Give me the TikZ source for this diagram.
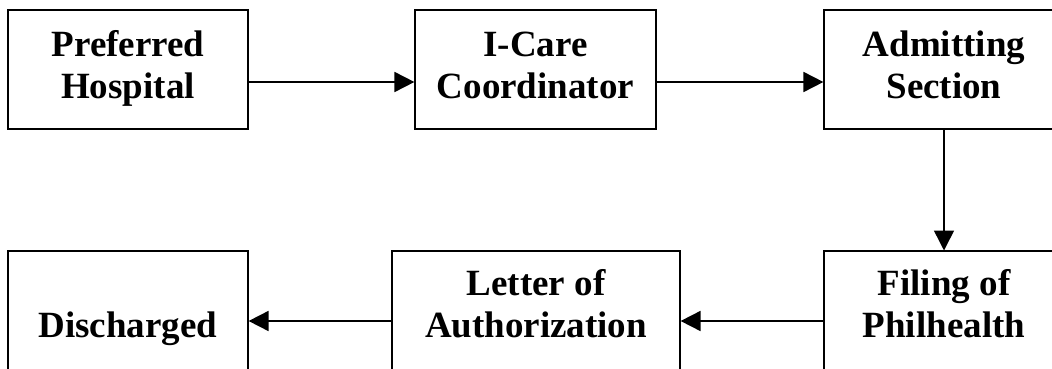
\documentclass[tikz,border=0pt]{standalone}
\usepackage{fontspec}
\setmainfont{Liberation Serif}
\usetikzlibrary{arrows.meta,calc}
\tikzset{
  box/.style={draw=black, line width=2.2pt, fill=white, inner sep=0pt,
    minimum height=119pt, align=center,
    font=\bfseries\fontsize{37pt}{42pt}\selectfont},
  txt/.style={align=center, inner sep=0pt, font=\bfseries\fontsize{37pt}{42pt}\selectfont},
  flow/.style={line width=1.8pt, -{Triangle[length=20pt,width=20pt]}, shorten >=-0.5pt}
}
\begin{document}
\begin{tikzpicture}[x=1pt,y=-1pt]
\useasboundingbox (0,0) rectangle (1052,369);
\clip (0,0) rectangle (1052,369);
\node[box, minimum width=240pt] (b1) at (128,69.5) {\strut Preferred\\Hospital\strut};
\node[box, minimum width=241pt] (b2) at (535.5,69.5) {\strut I-Care\\Coordinator\strut};
\node[box, minimum width=240pt] (b3) at (944,69.5) {\strut Admitting\\Section\strut};
\node[box, minimum width=240pt, minimum height=130pt, anchor=north] (b6) at (944,250) {};
\node[box, minimum width=288pt, minimum height=130pt, anchor=north] (b5) at (536,250) {};
\node[box, minimum width=240pt, minimum height=130pt, anchor=north] (b4) at (128,250) {};
\node[txt] (t6) at (944,308.5) {\strut Filing of\\Philhealth\strut};
\node[txt] (t5) at (536,308.5) {\strut Letter of\\Authorization\strut};
\node[txt] (t4) at (128,308.5) {\strut\\Discharged\strut};
\draw[flow] ($(b1.east)+(0,12.5)$) -- ($(b2.west)+(0,12.5)$);
\draw[flow] ($(b2.east)+(0,12.5)$) -- ($(b3.west)+(0,12.5)$);
\draw[flow, line width=1.5pt] (b3.south) -- (b6.north);
\draw[flow] ($(b6.north west)+(0,71)$) -- ($(b5.north east)+(0,71)$);
\draw[flow] ($(b5.north west)+(0,71)$) -- ($(b4.north east)+(0,71)$);
\end{tikzpicture}
\end{document}
